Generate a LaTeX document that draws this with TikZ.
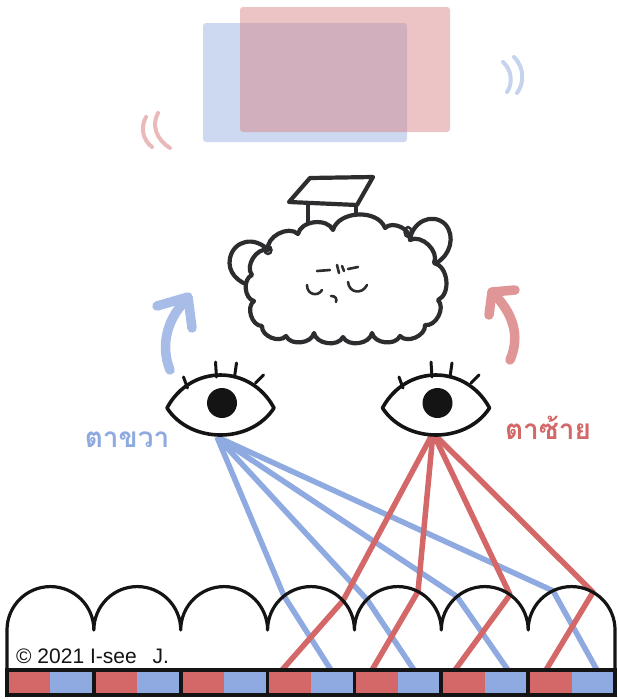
\documentclass[tikz,border=0pt]{standalone}
\usepackage{fontspec}
\setmainfont{Liberation Sans}
\newfontfamily\thaifont[Script=Thai]{Loma}
\definecolor{rayblue}{RGB}{142,170,224}
\definecolor{rayred}{RGB}{212,104,104}
\definecolor{arrowblue}{RGB}{168,188,232}
\definecolor{arrowred}{RGB}{224,150,150}
\definecolor{imgblue}{RGB}{205,217,240}
\definecolor{imgred}{RGB}{214,127,129}
\definecolor{waveblue}{RGB}{198,211,238}
\definecolor{wavered}{RGB}{234,186,187}
\definecolor{ink}{RGB}{20,20,20}
\definecolor{cloudink}{RGB}{45,45,48}
\begin{document}
\begin{tikzpicture}[x=1pt,y=-1pt,
  outline/.style={draw=ink, line width=3.6pt, line cap=round, line join=round},
  thin/.style={draw=cloudink, line width=2.6pt, line cap=round, line join=round},
  cloudline/.style={draw=cloudink, line width=4.2pt, line cap=round, line join=round},
  bump/.style={bend left=72},
  ray/.style={line width=5.5pt, line join=round},
  blueray/.style={ray, draw=rayblue},
  redray/.style={ray, draw=rayred},
  bigarrow/.style={line width=9.5pt, line cap=round, line join=round},
  wave/.style={line width=4pt, line cap=round},
  lash/.style={draw=ink, line width=3pt, line cap=round}
]
\useasboundingbox[fill=white] (0,0) rectangle (618,699);

% ---------- the fused picture at the top ----------
\fill[imgblue, rounded corners=3pt] (203,23) rectangle (407,142);
\fill[imgred, fill opacity=0.46, rounded corners=3pt] (240,7) rectangle (450,132);
\draw[wave, wavered] (146,117) .. controls (140,128) and (143,140) .. (152,147);
\draw[wave, wavered] (158,113) .. controls (151,126) and (157,140) .. (170,148);
\draw[wave, waveblue] (503,62) .. controls (512,70) and (513,84) .. (507,92);
\draw[wave, waveblue] (514,57) .. controls (525,68) and (524,84) .. (517,93);

% ---------- the brain (cloud with cap) ----------
\coordinate (c1) at (268,250);
\coordinate (c2) at (298,234);
\coordinate (c3) at (333,230);
\coordinate (c4) at (385,228);
\coordinate (c5) at (410,240);
\coordinate (c6) at (434,263);
\coordinate (c7) at (438,300);
\coordinate (c8) at (425,325);
\coordinate (c9) at (400,336);
\coordinate (c10) at (372,333);
\coordinate (c11) at (343,337);
\coordinate (c12) at (314,333);
\coordinate (c13) at (286,336);
\coordinate (c14) at (262,326);
\coordinate (c15) at (254,301);
\coordinate (c16) at (252,275);
% cap stem, behind the cloud body
\draw[cloudline] (308,204) -- (308,226);
\draw[cloudline] (356,206) -- (356,222);
% ears, behind the cloud body
\draw[cloudline] (c1) .. controls (255,236) and (234,240) .. (230,258)
  .. controls (227,272) and (238,283) .. (252,286);
\draw[cloudline] (c5) .. controls (412,222) and (432,212) .. (445,224)
  .. controls (456,236) and (450,256) .. (436,263);
\filldraw[cloudline, fill=white]
  (c1) to[bump] (c2) to[bump] (c3) to[bump] (c4)
  to[bump] (c5) to[bump] (c6) to[bump] (c7)
  to[bump] (c8) to[bump] (c9) to[bump] (c10)
  to[bump] (c11) to[bump] (c12) to[bump] (c13)
  to[bump] (c14) to[bump] (c15) to[bump] (c16)
  to[bump] (c1) -- cycle;
\draw[cloudink, line width=2.4pt] (c1) ellipse[x radius=3.5, y radius=4];
\draw[cloudink, line width=2.4pt] (408,232) ellipse[x radius=3.5, y radius=5];
% cap board
\coordinate (k1) at (310,178);
\coordinate (k2) at (373,177);
\coordinate (k3) at (357,205);
\coordinate (k4) at (289,202);
\filldraw[cloudline, fill=white] (k1) -- (k2) -- (k3) -- (k4) -- cycle;
% face
\draw[thin] (317,271) -- (330,270);
\draw[thin] (337,265) -- (339,273);
\draw[thin] (342,266) -- (344,271);
\draw[thin] (348,269) -- (358,267);
\draw[thin] (307,285) .. controls (307,295) and (318,297) .. (322,290);
\draw[thin] (348,282) .. controls (349,293) and (362,295) .. (367,285);
\draw[thin] (331,296) .. controls (336,296) and (337,299) .. (336,302);

% ---------- arrows from the eyes to the brain ----------
\draw[bigarrow, draw=arrowblue] (170,370) .. controls (160,345) and (167,318) .. (188,298);
\draw[bigarrow, draw=arrowblue] (157,306) -- (188,297) -- (192,328);
\draw[bigarrow, draw=arrowred] (510,360) .. controls (521,335) and (512,312) .. (493,293);
\draw[bigarrow, draw=arrowred] (515,290) -- (492,292) -- (489,315);

% ---------- labels ----------
\node[text=rayblue, font=\thaifont\bfseries\fontsize{28}{30}\selectfont] (lblR) at (127,440) {ตาขวา};
\node[text=rayred, font=\thaifont\bfseries\fontsize{28}{30}\selectfont] (lblL) at (548,428) {ตาซ้าย};

% ---------- rays through the lenses ----------
\coordinate (eyeR) at (217,437);
\coordinate (eyeL) at (433,433);
\coordinate (hb1) at (284,596);   \coordinate (sb1) at (331,670);
\coordinate (hb2) at (367,599.5); \coordinate (sb2) at (414,670);
\coordinate (hb3) at (457,596.6); \coordinate (sb3) at (508,670);
\coordinate (hb4) at (553,590.8); \coordinate (sb4) at (597,670);
\coordinate (hr1) at (343,600.7); \coordinate (sr1) at (282,670);
\coordinate (hr2) at (418,591.5); \coordinate (sr2) at (372,670);
\coordinate (hr3) at (510,594.7); \coordinate (sr3) at (455,670);
\coordinate (hr4) at (593,592.2); \coordinate (sr4) at (546,670);
\foreach \i in {1,...,4} {
  \draw[blueray] (eyeR) -- (hb\i) -- (sb\i);
}
\foreach \i in {1,...,4} {
  \draw[redray] (eyeL) -- (hr\i) -- (sr\i);
}

% ---------- eyes ----------
\foreach \cx/\nm in {220.5/R, 436/L} {
  \begin{scope}[shift={(\cx,0)}]
    \filldraw[outline, fill=white] (-53.5,408) .. controls (-30,364) and (30,364) .. (53.5,408)
      .. controls (30,444) and (-30,444) .. cycle;
    \fill[ink] (1.5,403) circle[radius=15];
    \draw[lash] (-4,377) -- (-5,362);
    \draw[lash] (14,377) -- (16,363);
    \draw[lash] (-33,388) -- (-37,377);
    \draw[lash] (35,383) -- (43,375);
  \end{scope}
}

% ---------- lenticular sheet ----------
\foreach \k in {0,...,6} {
  \fill[rayred] ({7+86.857*\k},670) rectangle ({7+86.857*\k+43.43},695);
  \fill[rayblue] ({7+86.857*\k+43.43},670) rectangle ({7+86.857*(\k+1)},695);
}
\draw[outline, line cap=butt, line join=miter] (7,670) rectangle (615,695);
\foreach \k in {1,...,6} {
  \draw[ink, line width=3.6pt] ({7+86.857*\k},670) -- ({7+86.857*\k},695);
}
\draw[ink, line width=3.2pt, line join=round] (7,670) -- (7,630)
  \foreach \k in {0,...,6} { arc[start angle=180, end angle=360, radius=43.43] }
  -- (615,670);

% ---------- credit ----------
\node[anchor=west, text=ink, font=\fontsize{21}{24}\selectfont, inner sep=0pt] (credit) at (16,656)
  {© 2021 I-see\hspace{16pt}J.};
\end{tikzpicture}
\end{document}
